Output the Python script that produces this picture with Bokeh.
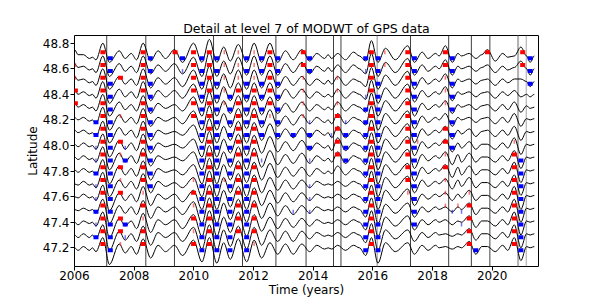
from bokeh.plotting import figure
from bokeh.models import Range1d, FixedTicker, Span, ColumnDataSource, BoxAnnotation, PrintfTickFormatter
from bokeh.embed import file_html
from bokeh.resources import INLINE

# ---- data ----
# times (years) of the turning points of the level-7 detail curves
knot_t = [2006.00, 2006.12, 2006.30, 2006.50, 2006.60, 2006.72, 2006.95, 2007.17, 2007.50, 2007.70,
          2007.90, 2008.08, 2008.30, 2008.55, 2008.80, 2009.05, 2009.35, 2009.62, 2009.99, 2010.27,
          2010.52, 2010.77, 2011.00, 2011.22, 2011.49, 2011.77, 2012.02, 2012.27, 2012.55, 2012.81,
          2013.07, 2013.33, 2013.62, 2013.88, 2014.12, 2014.38, 2014.50, 2014.62, 2014.82, 2015.08,
          2015.35, 2015.55, 2015.76, 2015.95, 2016.17, 2016.42, 2016.75, 2017.17, 2017.39, 2017.65,
          2017.85, 2018.10, 2018.22, 2018.43, 2018.66, 2018.85, 2018.97, 2019.23, 2019.45, 2019.65,
          2019.84, 2020.10, 2020.35, 2020.52, 2020.74, 2020.96, 2021.15, 2021.27, 2021.41]

# station latitudes, north to south
lats = [48.7, 48.6, 48.5, 48.4, 48.3, 48.2, 48.1, 48.0, 47.9, 47.8, 47.7, 47.6, 47.5, 47.4, 47.3, 47.2]

# detail values at the turning points, in hundredths of a degree
det_487 = [5,1,1,-2,-1,-3,10,-5,4,-2, 2,-3,10,-4,4,-2,5,-5,10,-5, 13,-5,7,-4,9,-5,10,-5,10,-5,
           4,-3,5,-4,2,-2,1,-2,2,-3, 3,0,-4,12,-5,6,-3,8,-5,3, -2,2,0,8,-5,2,0,2,-2,1, 5,-4,2,-1,0,7,0,-5,0]
det_486 = [4,1,2,-1,0,-3,10,-6,4,-2, 2,-3,10,-4,3,-2,4,-4,9,-6, 13,-6,6,-4,9,-5,10,-5,10,-5,
           4,-3,5,-4,2,-2,1,-2,3,-3, 3,0,-4,12,-6,5,-3,8,-5,3, -2,2,0,7,-5,2,0,2,-2,1, 3,-3,2,-1,1,6,0,-5,0]
det_485 = [4,1,2,-1,0,-3,10,-6,4,-2, 2,-3,10,-5,3,-2,3,-4,9,-6, 12,-6,6,-5,9,-6,9,-5,9,-5,
           4,-3,4,-3,2,-2,1,-2,4,-3, 2,0,-4,11,-6,5,-3,8,-6,3, -2,2,0,6,-5,2,0,2,-2,1, 2,-3,2,-1,2,2,0,-4,0]
det_484 = [3,0,2,-1,0,-3,10,-7,4,-2, 2,-3,10,-5,3,-2,3,-3,8,-7, 12,-7,6,-5,9,-6,9,-5,9,-5,
           4,-3,4,-3,2,-2,0,-2,4,-3, 2,0,-4,11,-7,5,-3,8,-6,3, -2,2,0,6,-5,2,0,2,-2,1, 2,-3,2,-1,3,-2,0,-2,0]
det_483 = [3,0,2,-1,0,-3,10,-7,4,-2, 2,-3,9,-5,3,-1,2,-3,8,-7, 12,-7,5,-5,9,-7,9,-6,8,-5,
           3,-4,4,-3,2,-2,0,-2,4,-3, 2,0,-4,11,-7,5,-3,7,-7,3, -2,2,0,5,-5,2,0,2,-2,1, 2,-3,2,-2,4,-4,1,-1,0]
det_482 = [2,0,2,-1,0,-3,10,-8,4,-2, 2,-3,9,-5,2,-1,2,-3,7,-8, 11,-8,5,-6,9,-7,9,-6,8,-5,
           3,-4,4,-3,2,-2,0,-3,5,-3, 2,0,-4,11,-8,5,-3,7,-7,3, -2,2,0,5,-5,2,0,2,-2,1, 2,-3,2,-2,5,-5,1,0,1]
det_481 = [2,0,2,-1,0,-3,9,-8,4,-2, 2,-4,9,-6,2,-1,1,-2,6,-8, 11,-8,5,-6,9,-8,8,-6,7,-5,
           3,-4,4,-4,2,-2,0,-4,5,-4, 2,0,-5,10,-8,5,-3,7,-8,3, -2,2,0,5,-5,2,-1,3,-3,1, 2,-3,2,-2,5,-6,1,0,1]
det_480 = [1,-1,2,-1,0,-3,9,-9,4,-3, 2,-4,9,-6,2,-1,1,-2,5,-9, 11,-9,5,-6,9,-8,8,-6,7,-5,
           3,-4,4,-4,2,-2,0,-4,6,-4, 2,0,-5,10,-9,5,-3,7,-8,3, -2,2,0,5,-5,2,-2,3,-3,1, 1,-3,2,-2,6,-7,1,0,1]
det_479 = [1,-1,2,-1,0,-3,9,-9,4,-3, 2,-4,8,-6,2,-1,1,-2,5,-9, 10,-9,5,-7,9,-9,8,-7,6,-5,
           3,-4,4,-4,2,-2,0,-3,5,-4, 2,0,-5,10,-9,5,-3,7,-8,3, -2,2,0,5,-5,3,-3,4,-3,1, 1,-3,2,-2,6,-8,1,0,1]
det_478 = [1,-1,2,-1,0,-3,9,-10,4,-3, 2,-4,8,-7,2,-1,1,-3,5,-10, 10,-10,5,-7,8,-9,7,-7,6,-5,
           3,-4,3,-4,2,-2,0,-2,4,-3, 2,0,-5,10,-10,5,-3,6,-8,3, -2,2,0,5,-5,3,-3,4,-3,1, 1,-3,2,-2,7,-9,1,0,1]
det_477 = [0,-1,2,-1,0,-3,9,-10,3,-3, 2,-4,8,-7,2,-2,1,-3,5,-10, 10,-10,5,-7,8,-10,7,-7,5,-5,
           3,-4,3,-3,2,-1,0,-1,2,-2, 2,0,-5,10,-10,5,-3,6,-7,3, -2,2,0,4,-4,3,-2,5,-3,1, 1,-3,2,-2,7,-9,1,0,1]
det_476 = [0,-1,2,-1,0,-3,9,-11,3,-3, 2,-4,8,-7,2,-2,2,-4,5,-10, 9,-10,5,-8,8,-10,7,-7,5,-5,
           3,-4,3,-3,2,-1,0,-1,2,-2, 2,0,-5,9,-10,5,-3,6,-7,2, -2,2,0,3,-3,2,-1,5,-3,1, 1,-3,2,-2,8,-10,1,0,1]
det_475 = [0,-1,1,-1,0,-3,8,-11,3,-3, 2,-4,7,-7,2,-2,2,-4,6,-11, 9,-11,5,-8,8,-10,7,-7,5,-5,
           3,-4,3,-3,2,-1,0,-1,2,-2, 2,0,-6,9,-11,4,-3,5,-6,2, -2,2,0,2,-2,2,0,5,-4,1, 1,-3,2,-2,8,-10,1,0,1]
det_474 = [0,-2,1,-1,0,-3,8,-12,3,-3, 1,-5,7,-8,2,-2,2,-5,6,-11, 9,-11,4,-8,8,-11,6,-7,4,-5,
           3,-4,3,-3,2,-1,0,-1,2,-2, 2,0,-6,9,-11,4,-3,5,-6,2, -2,2,0,2,-2,1,0,5,-4,1, 1,-3,2,-2,8,-10,1,0,1]
det_473 = [0,-2,1,-2,0,-3,8,-12,3,-4, 1,-5,7,-8,2,-2,2,-5,6,-11, 8,-12,4,-9,7,-11,6,-8,4,-5,
           3,-5,3,-3,2,-1,0,-1,2,-2, 2,0,-6,9,-12,4,-3,4,-5,2, -2,2,0,1,-1,1,0,5,-4,1, 1,-3,2,-2,8,-10,1,0,1]
det_472 = [0,-2,1,-2,0,-3,8,-13,3,-4, 1,-5,7,-8,2,-3,2,-6,6,-11, 8,-12,4,-9,7,-11,6,-8,4,-5,
           3,-5,3,-3,2,-1,0,-1,2,-2, 2,0,-6,8,-12,4,-3,4,-5,2, -2,2,0,1,-1,1,0,5,-5,1, 1,-3,2,-2,8,-10,1,0,1]

details = [det_487, det_486, det_485, det_484, det_483, det_482, det_481, det_480,
           det_479, det_478, det_477, det_476, det_475, det_474, det_473, det_472]

# extrema markers: time, colour (r = maximum, b = minimum), per-station strength (north to south)
mark_t = [2006.03, 2006.72, 2006.95, 2007.20, 2007.54, 2007.70, 2008.30, 2008.54, 2009.37, 2009.62,
          2009.99, 2010.27, 2010.52, 2010.77, 2011.02, 2011.21, 2011.49, 2011.77, 2012.02, 2012.27,
          2012.55, 2012.81, 2013.33, 2013.67, 2013.88, 2014.61, 2014.81, 2015.09, 2015.76, 2015.95,
          2016.17, 2016.40, 2017.17, 2017.39, 2017.50, 2018.43, 2018.66, 2018.85, 2018.97, 2019.23,
          2019.45, 2019.84, 2020.74, 2020.96, 2021.02, 2021.27]
mark_color = ["r", "b", "r", "b", "r", "b", "r", "b", "r", "b",
              "r", "b", "r", "b", "r", "b", "r", "b", "r", "b",
              "r", "b", "b", "r", "b", "b", "r", "b", "b", "r",
              "b", "r", "r", "b", "r", "r", "b", "r", "b", "r",
              "b", "r", "r", "b", "r", "b"]
mark_rows = ["0112200000000000", "0000022112112120", "2222222222222222", "2222222222222222",
             "0020010212120221", "0000000120000210", "2222222222212122", "2222222222200000",
             "2000000000000000", "2100000000000000", "2222220000121212", "2222222222222222",
             "2222222222222222", "2222222222222222", "1111100000100000", "0002222222222222",
             "1112222222222220", "2222222222222222", "1112222222222221", "2222222010000000",
             "2222210000000000", "2222222000000000", "0000002000001000", "2211110000000000",
             "2200012210111000", "0000001000000000", "0011122220000000", "0000012220000000",
             "2101222222222222", "2222222222222222", "2222222222222222", "1100000000000000",
             "2222222222210000", "2222222222222200", "0000000100000000", "2211102212111000",
             "2222222200001000", "0000000000001000", "0000000000001100", "0000000000012222",
             "0000000000000002", "2000000000000000", "0000000122222222", "0000000022222222",
             "2200000000000000", "2220000000000000"]

# event times (vertical lines) and grey event bands
event_t = [2007.08, 2008.39, 2009.35, 2010.66, 2011.63, 2012.75, 2013.76, 2014.68, 2014.93,
           2017.26, 2018.54, 2019.30, 2019.92]
band_start = [2016.12, 2020.83, 2021.12]
band_end = [2016.17, 2020.90, 2021.16]

x_ticks = [2006, 2008, 2010, 2012, 2014, 2016, 2018, 2020]
y_ticks = [47.2, 47.4, 47.6, 47.8, 48.0, 48.2, 48.4, 48.6, 48.8]

for d in details:
    assert len(d) == len(knot_t), len(d)
assert len(mark_t) == len(mark_color) == len(mark_rows)

FONT = "DejaVu Sans"

p = figure(width=598, height=299, output_backend="svg", toolbar_location=None,
           x_range=Range1d(2006.0, 2021.55), y_range=Range1d(47.054, 48.86),
           min_border_left=74, min_border_right=60, min_border_top=35, min_border_bottom=33,
           title="Detail at level 7 of MODWT of GPS data")
p.title.text_font = FONT
p.title.text_font_size = "12.5px"
p.title.text_font_style = "normal"
p.title.align = "center"
p.title.standoff = 0
p.title.text_color = "black"

p.grid.visible = False
p.outline_line_color = "black"
p.outline_line_width = 1
p.background_fill_color = "white"
p.border_fill_color = "white"

for ax in (p.xaxis, p.yaxis):
    ax.axis_line_color = None
    ax.minor_tick_line_color = None
    ax.major_tick_in = 0
    ax.major_tick_out = 4
    ax.major_tick_line_color = "black"
    ax.major_label_text_font = FONT
    ax.major_label_text_font_size = "12px"
    ax.major_label_text_color = "black"
    ax.axis_label_text_font = FONT
    ax.axis_label_text_font_size = "12px"
    ax.axis_label_text_font_style = "normal"
    ax.axis_label_text_color = "black"
    ax.axis_label_standoff = 0
p.xaxis.ticker = FixedTicker(ticks=x_ticks)
p.yaxis.ticker = FixedTicker(ticks=y_ticks)
p.yaxis.formatter = PrintfTickFormatter(format="%.1f")
p.xaxis.major_label_standoff = 0
p.yaxis.major_label_standoff = 1
p.yaxis.axis_label = "Latitude"
p.xaxis.axis_label = "Time (years)"

# event markers
for a, b in zip(band_start, band_end):
    p.add_layout(BoxAnnotation(left=a, right=b, fill_color="#a0a0a0", fill_alpha=0.8,
                               line_color=None, level="underlay"))
for t in event_t:
    p.add_layout(Span(location=t, dimension="height", line_color="#404040", line_width=1,
                      level="underlay"))

# curves: smooth segments between successive turning points
seg = dict(x0=[], y0=[], x1=[], y1=[], cx0=[], cy0=[], cx1=[], cy1=[])
for lat, d in zip(lats, details):
    for i in range(len(knot_t) - 1):
        ta, tb = knot_t[i], knot_t[i + 1]
        ya, yb = lat + d[i] / 100.0, lat + d[i + 1] / 100.0
        dt = (tb - ta) / 3.0
        seg["x0"].append(ta); seg["y0"].append(ya)
        seg["x1"].append(tb); seg["y1"].append(yb)
        seg["cx0"].append(ta + dt); seg["cy0"].append(ya)
        seg["cx1"].append(tb - dt); seg["cy1"].append(yb)
p.bezier(x0="x0", y0="y0", x1="x1", y1="y1", cx0="cx0", cy0="cy0", cx1="cx1", cy1="cy1",
         source=ColumnDataSource(seg), line_color="black", line_width=1)

# extrema markers
mk = dict(x=[], y=[], w=[], c=[], a=[])
for t, c, s in zip(mark_t, mark_color, mark_rows):
    for r, ch in enumerate(s):
        if ch == "0":
            continue
        mk["x"].append(t)
        mk["y"].append(lats[r] + (0.03 if c == "r" else -0.018))
        mk["w"].append(5 if ch == "2" else 1.5)
        mk["c"].append("#ff0000" if c == "r" else "#0000ff")
        mk["a"].append(1.0 if ch == "2" else 0.55)
p.rect(x="x", y="y", width="w", height=4, width_units="screen", height_units="screen",
       fill_color="c", line_color=None, fill_alpha="a", source=ColumnDataSource(mk))

open("out.html", "w").write(file_html(p, INLINE))
